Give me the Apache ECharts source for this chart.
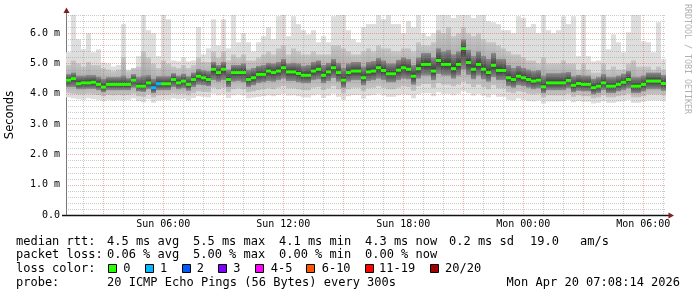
<!DOCTYPE html>
<html><head><meta charset="utf-8">
<script src="https://cdn.jsdelivr.net/npm/echarts@6/dist/echarts.min.js"></script>
<style>html,body{margin:0;padding:0;background:#fff}#c{width:697px;height:297px}</style>
</head><body><div id="c"></div>
<script>
// ---- time base (Sun 01:08:14 -> Mon 07:08:14), hours since Sun 00:00 ----
const startHour = 1 + 8 / 60 + 14 / 3600;
const spanHours = 30;
const stepHours = 0.25;

// ---- median RTT per step (ms) ----
const median = [
  4.45,4.50,4.33,4.36,4.36,4.38,4.31,4.22,4.31,4.31,
  4.31,4.31,4.31,4.45,4.25,4.25,4.36,4.20,4.33,4.33,
  4.33,4.47,4.36,4.42,4.31,4.47,4.58,4.53,4.47,4.81,
  4.70,4.81,4.47,4.70,4.70,4.70,4.47,4.53,4.64,4.64,
  4.75,4.70,4.75,4.86,4.72,4.72,4.67,4.61,4.61,4.75,
  4.81,4.61,4.72,4.86,4.70,4.45,4.70,4.75,4.75,4.53,
  4.72,4.75,4.86,4.77,4.66,4.66,4.78,4.86,4.81,4.58,
  4.83,4.97,4.97,4.75,5.10,4.97,4.97,4.83,4.97,5.49,
  5.03,4.81,4.97,4.81,4.70,4.94,4.77,4.77,4.53,4.47,
  4.58,4.53,4.47,4.42,4.45,4.23,4.36,4.36,4.36,4.36,
  4.44,4.28,4.34,4.31,4.31,4.20,4.25,4.36,4.25,4.25,
  4.31,4.38,4.47,4.25,4.25,4.31,4.42,4.42,4.42,4.34
];
// ---- lost pings (of 20) per step ----
const lossCount = [
  0,0,0,0,0,0,0,0,0,0, 0,0,0,0,0,0,0,1,1,0,
  0,0,0,0,0,0,0,0,0,0, 0,0,0,0,0,0,0,0,0,0,
  0,0,0,0,0,0,0,0,0,0, 0,0,0,0,0,0,0,0,0,0,
  0,0,0,0,0,0,0,0,0,0, 0,0,0,0,0,0,0,0,0,0,
  0,0,0,0,0,0,0,0,0,0, 0,0,0,0,0,0,0,0,0,0,
  0,0,0,0,0,0,0,0,0,0, 0,0,0,0,0,0,0,0,0,0
];
// ---- smoke (ping distribution) per step ----
const smokeMax = [
  5.37,6.60,5.80,5.47,6.00,5.37,5.47,5.03,5.00,4.90,
  4.95,6.30,4.80,4.77,5.24,6.60,6.10,6.00,5.24,6.60,
  6.46,5.10,5.07,5.20,5.07,5.10,6.20,5.30,5.50,6.46,
  5.60,6.46,5.50,6.60,5.70,6.00,5.70,5.40,5.70,5.90,
  6.20,5.80,6.56,6.60,5.90,6.56,6.30,6.10,5.96,6.10,
  5.70,5.90,5.70,6.56,6.60,6.60,6.10,5.80,5.70,6.20,
  6.30,6.30,6.60,6.46,6.60,6.30,6.30,6.00,6.40,6.20,
  6.60,6.00,5.90,6.00,6.60,6.60,6.60,6.50,6.60,6.60,
  6.60,6.50,6.60,6.60,6.40,6.36,6.30,6.10,6.10,6.00,
  6.56,6.50,6.20,6.30,6.00,6.60,6.10,6.00,6.10,6.56,
  6.30,6.56,5.24,6.60,5.24,5.07,5.10,6.60,5.47,5.96,
  5.70,5.37,6.03,6.60,6.60,5.73,5.70,5.37,6.36,5.14
];
const smokeP90 = [
  4.95,5.10,5.00,4.90,5.05,4.95,4.95,4.85,4.80,4.75,
  4.80,5.20,4.75,4.85,4.90,5.40,5.20,5.00,4.85,5.10,
  5.00,4.90,4.85,4.95,4.85,4.95,5.20,5.05,5.05,5.40,
  5.20,5.40,5.10,5.30,5.20,5.30,5.10,5.10,5.20,5.30,
  5.40,5.30,5.50,5.60,5.30,5.50,5.40,5.30,5.30,5.40,
  5.30,5.30,5.30,5.60,5.60,5.50,5.40,5.30,5.30,5.40,
  5.50,5.40,5.60,5.50,5.50,5.40,5.40,5.50,5.50,5.40,
  5.70,5.60,5.60,5.70,6.10,6.00,6.20,5.90,6.00,6.20,
  6.00,5.90,6.00,5.80,5.70,5.70,5.60,5.50,5.40,5.30,
  5.30,5.20,5.10,5.10,5.00,5.20,5.00,5.00,5.00,5.10,
  5.00,5.00,4.80,5.00,4.80,4.70,4.70,5.00,4.80,4.90,
  4.80,4.80,5.00,5.10,4.90,4.90,4.90,4.80,4.90,4.80
];
const smokeP75 = [
  4.65,4.70,4.60,4.60,4.62,4.62,4.56,4.50,4.55,4.55,
  4.55,4.60,4.52,4.65,4.55,4.60,4.62,4.50,4.58,4.58,
  4.58,4.68,4.60,4.66,4.58,4.70,4.82,4.78,4.75,5.05,
  4.95,5.05,4.80,4.95,4.95,5.00,4.80,4.85,4.92,4.95,
  5.02,5.00,5.05,5.15,5.00,5.02,5.00,4.92,4.95,5.05,
  5.10,4.95,5.02,5.15,5.02,4.85,5.00,5.05,5.05,4.90,
  5.05,5.08,5.18,5.10,5.00,5.00,5.12,5.20,5.15,4.95,
  5.20,5.35,5.35,5.20,5.50,5.40,5.45,5.30,5.40,5.80,
  5.45,5.25,5.40,5.25,5.15,5.35,5.15,5.15,4.95,4.85,
  4.92,4.85,4.80,4.75,4.78,4.60,4.68,4.68,4.68,4.70,
  4.72,4.58,4.62,4.60,4.60,4.50,4.55,4.65,4.55,4.55,
  4.60,4.66,4.75,4.55,4.55,4.60,4.70,4.70,4.70,4.62
];
const smokeP25 = [
  4.22,4.22,4.15,4.15,4.16,4.16,4.12,4.05,4.12,4.12,
  4.12,4.12,4.12,4.20,4.08,4.06,4.15,4.02,4.12,4.12,
  4.12,4.22,4.15,4.18,4.10,4.22,4.30,4.28,4.25,4.45,
  4.40,4.45,4.22,4.40,4.42,4.38,4.22,4.28,4.35,4.38,
  4.42,4.40,4.45,4.50,4.42,4.42,4.38,4.35,4.35,4.45,
  4.48,4.35,4.42,4.52,4.40,4.20,4.40,4.45,4.45,4.28,
  4.42,4.45,4.50,4.45,4.38,4.38,4.45,4.50,4.48,4.30,
  4.50,4.60,4.60,4.45,4.65,4.60,4.60,4.50,4.60,4.80,
  4.62,4.48,4.60,4.48,4.40,4.55,4.45,4.45,4.25,4.20,
  4.28,4.25,4.20,4.15,4.18,4.02,4.12,4.12,4.12,4.12,
  4.18,4.05,4.10,4.08,4.08,3.98,4.02,4.12,4.02,4.02,
  4.08,4.12,4.18,4.02,4.02,4.08,4.15,4.15,4.15,4.10
];
const smokeP10 = [
  4.02,4.00,3.98,3.98,4.00,3.98,3.96,3.92,3.96,3.95,
  3.96,3.95,3.96,4.00,3.92,3.90,3.98,3.88,3.95,3.96,
  3.96,4.00,3.98,4.00,3.95,4.02,4.08,4.06,4.05,4.20,
  4.15,4.20,4.05,4.15,4.18,4.15,4.05,4.08,4.12,4.15,
  4.18,4.15,4.20,4.25,4.18,4.18,4.15,4.12,4.12,4.20,
  4.22,4.12,4.18,4.25,4.15,4.02,4.15,4.20,4.20,4.08,
  4.18,4.20,4.25,4.20,4.15,4.15,4.20,4.25,4.22,4.10,
  4.25,4.32,4.32,4.20,4.35,4.30,4.30,4.25,4.30,4.40,
  4.32,4.22,4.30,4.22,4.15,4.28,4.18,4.18,4.05,4.02,
  4.08,4.05,4.00,3.98,4.00,3.88,3.95,3.95,3.95,3.95,
  4.00,3.90,3.95,3.92,3.92,3.85,3.88,3.95,3.88,3.88,
  3.92,3.95,4.00,3.88,3.88,3.92,3.98,3.98,3.98,3.95
];
const smokeMin = [
  3.88,3.85,3.82,3.80,3.85,3.83,3.80,3.76,3.80,3.78,
  3.80,3.78,3.80,3.85,3.76,3.72,3.82,3.70,3.78,3.80,
  3.80,3.85,3.82,3.84,3.78,3.86,3.92,3.90,3.88,4.00,
  3.95,3.98,3.86,3.95,3.98,3.95,3.85,3.88,3.90,3.92,
  3.95,3.92,3.96,4.00,3.94,3.95,3.92,3.88,3.88,3.95,
  3.98,3.86,3.94,4.00,3.90,3.80,3.92,3.96,3.96,3.84,
  3.94,3.96,4.00,3.95,3.90,3.90,3.95,3.98,3.96,3.85,
  3.98,4.02,4.02,3.92,4.05,4.00,4.00,3.95,4.00,4.08,
  4.02,3.94,4.00,3.94,3.88,3.98,3.90,3.90,3.80,3.78,
  3.85,3.80,3.76,3.75,3.78,3.68,3.75,3.75,3.75,3.76,
  3.80,3.72,3.76,3.74,3.74,3.68,3.70,3.76,3.70,3.70,
  3.74,3.76,3.80,3.70,3.70,3.74,3.78,3.78,3.78,3.76
];

// ---- axis / legend texts ----
const xLabelHours = [6, 12, 18, 24, 30];
const yMax = 6.6;
const lossLabels = ['0', '1', '2', '3', '4-5', '6-10', '11-19', '20/20'];
const lossColors = ['#26ff00', '#00b8ff', '#0059ff', '#7e00ff', '#ff00ff', '#ff5500', '#ff0000', '#a10000'];
const rttStats = ['4.5 ms avg', '5.5 ms max', '4.1 ms min', '4.3 ms now', '0.2 ms sd', '19.0', 'am/s'];
const lossStats = ['0.06 % avg', '5.00 % max', '0.00 % min', '0.00 % now'];
const probeText = '20 ICMP Echo Pings (56 Bytes) every 300s';
const stampText = 'Mon Apr 20 07:08:14 2026';

function lossBucket(n) {
  if (n <= 3) return n;
  if (n <= 5) return 4;
  if (n <= 10) return 5;
  if (n <= 19) return 6;
  return 7;
}

const MONO = '"DejaVu Sans Mono", monospace';
const GRID_MINOR = 'rgba(143,143,143,0.45)';
const GRID_MAJOR = 'rgba(222,79,79,0.45)';

const smokeData = median.map((m, i) => [startHour + (i + 1) * stepHours,
  smokeMin[i], smokeP10[i], smokeP25[i], smokeP75[i], smokeP90[i], smokeMax[i], m]);
const medianData = median.map((m, i) => [startHour + (i + 1) * stepHours, m, lossCount[i]]);

const vGrid = [];
for (let h = Math.ceil(startHour); h <= startHour + spanHours; h++) vGrid.push([h, 0]);
const hGrid = [];
for (let k = 1; k <= Math.round(yMax / 0.2); k++) hGrid.push([startHour, +(k * 0.2).toFixed(1), k]);

function renderSmoke(params, api) {
  const t = api.value(0);
  const xa = api.coord([t - stepHours, 0])[0], xb = api.coord([t, 0])[0];
  const Y = v => api.coord([t, v])[1];
  const yMin = Y(api.value(1)), y10 = Y(api.value(2)), y25 = Y(api.value(3));
  const y75 = Y(api.value(4)), y90 = Y(api.value(5)), yMx = Y(api.value(6)), yMed = Y(api.value(7));
  const w = xb - xa;
  let f = (yMed - y75) / (y25 - y75);
  f = Math.max(0.05, Math.min(0.95, f));
  return { type: 'group', children: [
    { type: 'rect', shape: { x: xa, y: yMx, width: w, height: yMin - yMx }, style: { fill: '#dedede' } },
    { type: 'rect', shape: { x: xa, y: y90, width: w, height: y10 - y90 },
      style: { fill: new echarts.graphic.LinearGradient(0, 0, 0, 1, [
        { offset: 0, color: '#c6c6c6' }, { offset: 0.5, color: '#a8a8a8' }, { offset: 1, color: '#c2c2c2' }]) } },
    { type: 'rect', shape: { x: xa, y: y75, width: w, height: y25 - y75 },
      style: { fill: new echarts.graphic.LinearGradient(0, 0, 0, 1, [
        { offset: 0, color: '#8c8c8c' }, { offset: f, color: '#383838' }, { offset: 1, color: '#8c8c8c' }]) } }
  ] };
}
function renderMedian(params, api) {
  const t = api.value(0);
  const xa = api.coord([t - stepHours, 0])[0], xb = api.coord([t, 0])[0];
  const y = api.coord([t, api.value(1)])[1];
  return { type: 'rect', shape: { x: xa, y: y - 1.5, width: xb - xa, height: 3 },
    style: { fill: lossColors[lossBucket(api.value(2))] } };
}
function renderVGrid(params, api) {
  const h = api.value(0);
  const x = Math.round(api.coord([h, 0])[0]) + 0.5;
  const y0 = api.coord([h, 0])[1], y1 = api.coord([h, yMax])[1];
  return { type: 'line', shape: { x1: x, y1: y1, x2: x, y2: y0 },
    style: { stroke: (Math.round(h) % 3 === 0) ? GRID_MAJOR : GRID_MINOR, lineWidth: 1, lineDash: [1, 1] } };
}
function renderHGrid(params, api) {
  const v = api.value(1), k = api.value(2);
  const y = Math.round(api.coord([startHour, v])[1]) + 0.5;
  const x0 = api.coord([startHour, v])[0], x1 = api.coord([startHour + spanHours, v])[0];
  return { type: 'line', shape: { x1: x0, y1: y, x2: x1, y2: y },
    style: { stroke: (k % 5 === 0) ? GRID_MAJOR : GRID_MINOR, lineWidth: 1, lineDash: [1, 1] } };
}

function fmtHour(h) {
  const r = Math.round(h);
  const day = r < 24 ? 'Sun' : 'Mon';
  return day + ' ' + String(r % 24).padStart(2, '0') + ':00';
}

// legend graphics
const graphics = [];
function txt(s, x, y, extra) {
  graphics.push(Object.assign({ type: 'text', x: x, y: y, silent: true,
    style: { text: s, font: '12px ' + MONO, fill: '#000', align: 'left', verticalAlign: 'middle' } }, extra || {}));
}
const rowY = [241.5, 255.2, 269, 282.7];
txt('median rtt:', 16, rowY[0]);
[107, 193, 279, 365, 449, 530, 580].forEach((x, i) => txt(rttStats[i], x, rowY[0]));
txt('packet loss:', 16, rowY[1]);
[107, 193, 279, 365].forEach((x, i) => txt(lossStats[i], x, rowY[1]));
txt('loss color:', 16, rowY[2]);
const sqX = [108.5, 145.5, 182.5, 218.5, 255.5, 306.5, 365.5, 430.5];
const lbX = [123.3, 160, 196.7, 233.3, 270.7, 321.7, 379, 445];
lossLabels.forEach((l, i) => {
  graphics.push({ type: 'rect', silent: true, shape: { x: sqX[i], y: 264.5, width: 8, height: 8 },
    style: { fill: lossColors[i], stroke: '#000', lineWidth: 1 } });
  txt(l, lbX[i], rowY[2]);
});
txt('probe:', 16, rowY[3]);
txt(probeText, 107, rowY[3]);
graphics.push({ type: 'text', x: 680, y: rowY[3], silent: true,
  style: { text: stampText, font: '12px ' + MONO, fill: '#000', align: 'right', verticalAlign: 'middle' } });
// watermark
graphics.push({ type: 'text', x: 687, y: 59, rotation: -Math.PI / 2, silent: true,
  style: { text: 'RRDTOOL / TOBI OETIKER', font: '8.3px ' + MONO, fill: '#b0b0b0', align: 'center', verticalAlign: 'middle' } });
// axis arrows
graphics.push({ type: 'line', silent: true, shape: { x1: 66.5, y1: 12, x2: 66.5, y2: 16 }, style: { stroke: '#777', lineWidth: 1 } });
graphics.push({ type: 'polygon', silent: true, shape: { points: [[63.5, 13], [66.5, 7.5], [69.5, 13]] }, style: { fill: '#801f1f' } });
graphics.push({ type: 'line', silent: true, shape: { x1: 62, y1: 215.5, x2: 669, y2: 215.5 }, style: { stroke: '#111', lineWidth: 1.3 } });
graphics.push({ type: 'polygon', silent: true, shape: { points: [[668.5, 212.5], [674, 215.5], [668.5, 218.5]] }, style: { fill: '#801f1f' } });

const chart = echarts.init(document.getElementById('c'), null, { renderer: 'canvas', width: 697, height: 297 });
chart.setOption({
  animation: false,
  backgroundColor: '#ffffff',
  grid: { left: 66, right: 31, top: 15, bottom: 82, containLabel: false, outerBoundsMode: 'none' },
  xAxis: {
    type: 'value', min: startHour, max: startHour + spanHours,
    axisLine: { show: true, lineStyle: { color: '#111', width: 1 } },
    axisTick: { show: false }, splitLine: { show: false },
    axisLabel: { customValues: xLabelHours, formatter: fmtHour, fontFamily: MONO, fontSize: 10, color: '#000', margin: 4 }
  },
  yAxis: {
    type: 'value', min: 0, max: yMax, interval: 0.2,
    axisLine: { show: true, lineStyle: { color: '#777', width: 1 } },
    axisTick: { show: false }, splitLine: { show: false },
    axisLabel: {
      fontFamily: MONO, fontSize: 10, color: '#000', margin: 6,
      formatter: v => { const r = Math.round(v); if (Math.abs(v - r) > 1e-6) return ''; return r === 0 ? '0.0' : r.toFixed(1) + ' m'; }
    },
    name: 'Seconds', nameLocation: 'middle', nameGap: 50, nameRotate: 90,
    nameTextStyle: { fontFamily: '"DejaVu Sans", sans-serif', fontSize: 11.5, color: '#000' }
  },
  series: [
    { type: 'custom', name: 'smoke', z: 2, clip: true, renderItem: renderSmoke, data: smokeData, silent: true },
    { type: 'custom', name: 'vgrid', z: 3, clip: false, renderItem: renderVGrid, data: vGrid, silent: true },
    { type: 'custom', name: 'hgrid', z: 3, clip: false, renderItem: renderHGrid, data: hGrid, silent: true },
    { type: 'custom', name: 'median', z: 4, clip: true, renderItem: renderMedian, data: medianData, silent: true }
  ],
  graphic: graphics
});
</script></body></html>
